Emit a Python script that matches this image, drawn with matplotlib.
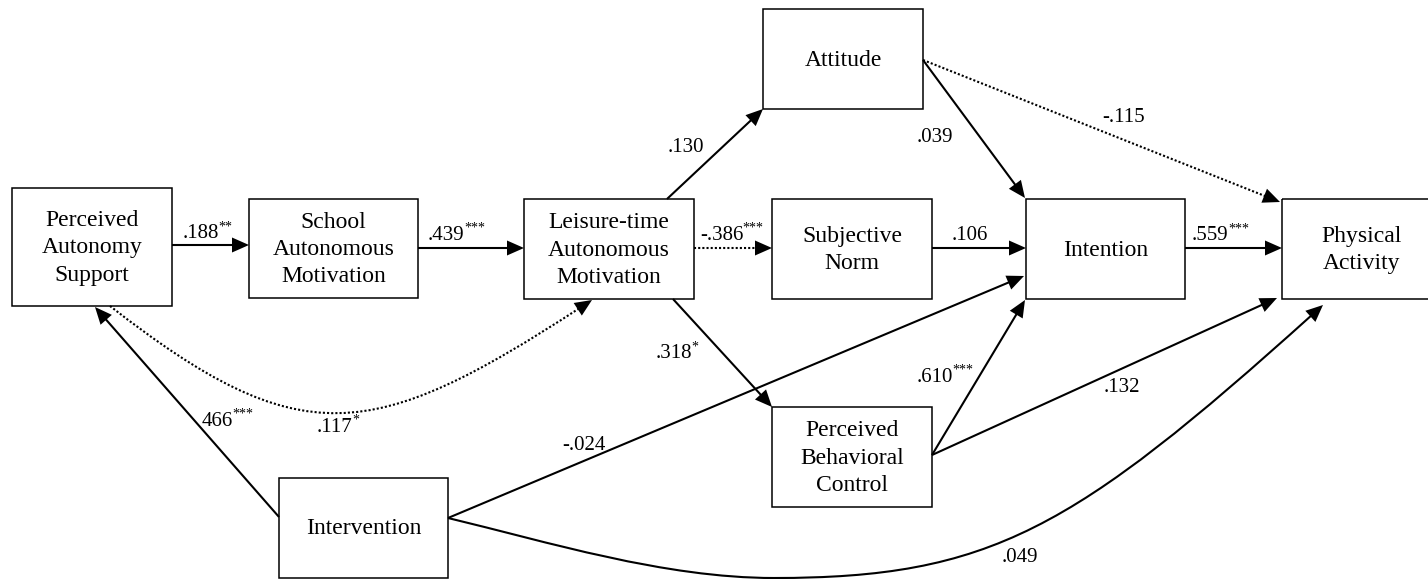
import numpy as np
import matplotlib
matplotlib.use('Agg')
import matplotlib.pyplot as plt
from matplotlib.patches import Rectangle, PathPatch, Polygon
from matplotlib.path import Path

plt.rcParams['font.family'] = ['Liberation Serif', 'DejaVu Serif']

# --- model variables ---
nodes = ['pas', 'sam', 'lam', 'att', 'sn', 'int', 'pa', 'pbc', 'iv']
node_labels = ['Perceived\nAutonomy\nSupport', 'School\nAutonomous\nMotivation',
               'Leisure-time\nAutonomous\nMotivation', 'Attitude', 'Subjective\nNorm',
               'Intention', 'Physical\nActivity', 'Perceived\nBehavioral\nControl',
               'Intervention']

# --- structural paths: source -> target, coefficient, significance ---
path_from = ['pas', 'sam', 'lam', 'lam', 'lam', 'att', 'att', 'sn', 'int', 'pbc', 'pbc',
             'iv', 'pas', 'iv', 'iv']
path_to = ['sam', 'lam', 'att', 'sn', 'pbc', 'int', 'pa', 'int', 'pa', 'int', 'pa',
           'pas', 'lam', 'int', 'pa']
path_coef = ['.188', '.439', '.130', '-.386', '.318', '.039', '-.115', '.106', '.559',
             '.610', '.132', '466', '.117', '-.024', '.049']
path_stars = ['**', '***', '', '***', '*', '', '', '', '***', '***', '', '***', '*', '', '']

# --- layout (pixel coordinates, y downwards) ---
boxes = {
    'pas': (12, 188, 172, 306),
    'sam': (249, 199, 418, 298),
    'lam': (524, 199, 694, 299),
    'att': (763, 9, 923, 109),
    'sn': (772, 199, 932, 299),
    'int': (1026, 199, 1185, 299),
    'pa': (1282, 199, 1442, 299),
    'pbc': (772, 407, 932, 507),
    'iv': (279, 478, 448, 578),
}

# geometry of each path: control points (2 = straight, 4 = cubic,
# 7 = two cubic pieces)
geometry = [
    [(172, 245), (249, 245)],
    [(418, 248), (524, 248)],
    [(667, 199), (763, 109)],
    [(694, 248), (772, 248)],
    [(673, 299), (772, 407)],
    [(923, 60), (1025, 198)],
    [(923, 60), (1280, 202)],
    [(932, 248), (1026, 248)],
    [(1185, 248), (1282, 248)],
    [(932, 455), (1025, 300)],
    [(932, 455), (1277, 298)],
    [(279, 517), (95, 307)],
    [(110, 306), (300, 454), (372, 443), (592, 300)],
    [(448, 518), (1024, 276)],
    [(448, 518), (548, 542), (664, 578), (774, 578), (990, 578), (1073, 530), (1323, 305)],
]
dotted = [False, False, False, True, False, False, True, False, False, False, False,
          False, True, False, False]

# label anchor: left edge x, vertical centre y
label_pos = [(183, 234), (428, 235), (668, 148), (700, 235), (656, 354), (917, 137),
             (1102, 118), (952, 235), (1192, 236), (917, 377), (1104, 387), (202, 421),
             (317, 427), (562, 445), (1002, 558)]

HEAD_LEN = 17
HEAD_HW = 7.5
LW = 1.5


def draw_path(ax, pts, is_dotted):
    pts = np.array(pts, dtype=float)
    tip = pts[-1].copy()
    d = tip - pts[-2]
    d /= np.hypot(*d)
    n = np.array([-d[1], d[0]])
    base = tip - d * HEAD_LEN
    shaft = pts.copy()
    shaft[-1] = base + d * 2
    if len(pts) == 2:
        codes = [Path.MOVETO, Path.LINETO]
    else:
        codes = [Path.MOVETO] + [Path.CURVE4] * (len(pts) - 1)
    ls = (0, (1, 1)) if is_dotted else '-'
    ax.add_patch(PathPatch(Path(shaft, codes), fill=False, lw=LW, ls=ls,
                           color='black', capstyle='butt'))
    head = [tip, base + n * HEAD_HW, base - n * HEAD_HW]
    ax.add_patch(Polygon(head, closed=True, color='black', lw=0))


fig = plt.figure(figsize=(14.28, 5.79), dpi=100)
ax = fig.add_axes([0, 0, 1, 1])
ax.set_xlim(0, 1428)
ax.set_ylim(579, 0)
ax.axis('off')

for name, label in zip(nodes, node_labels):
    x0, y0, x1, y1 = boxes[name]
    ax.add_patch(Rectangle((x0, y0), x1 - x0, y1 - y0, fill=False, lw=1.1,
                           edgecolor='black'))
    ax.text((x0 + x1) / 2, (y0 + y1) / 2 + 1, label, ha='center', va='center',
            fontsize=17, linespacing=1.4)

for pts, dt, coef, stars, (lx, ly) in zip(geometry, dotted, path_coef, path_stars,
                                         label_pos):
    draw_path(ax, pts, dt)
    t = ax.text(lx, ly, coef, ha='left', va='center', fontsize=15)
    if stars:
        ax.annotate(stars, xy=(1, 1), xycoords=t, ha='left', va='top',
                    xytext=(-0.5, 2.5), textcoords='offset points', fontsize=10)

fig.savefig('out.png', dpi=100)
